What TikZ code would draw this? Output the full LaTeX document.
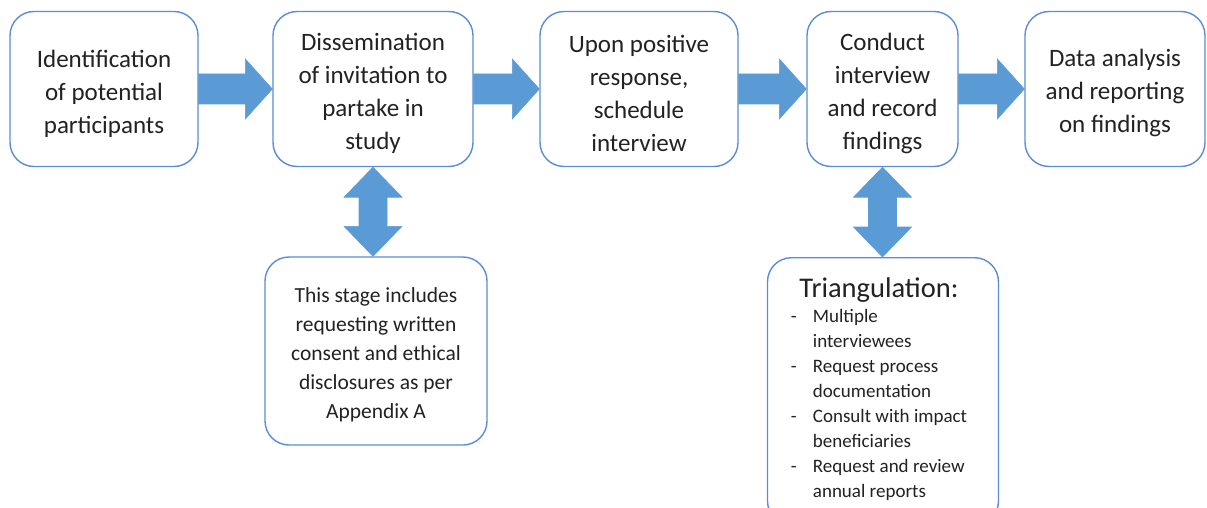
\documentclass[tikz,border=0pt]{standalone}
\usepackage{fontspec}
\setmainfont{Carlito}
\usetikzlibrary{calc}
\definecolor{Ink}{HTML}{222222}
\definecolor{Edge}{HTML}{5B8DD6}
\definecolor{Flow}{HTML}{5B9BD5}
% taller first line, pushes the text block down a little
\newcommand{\hd}{\rule{0pt}{1.05em}}
\tikzset{
  frm/.style={rectangle,rounded corners=24pt,draw=Edge,line width=1.4pt,fill=white,text=Ink,align=center,inner sep=4pt},
  stg/.style={frm,font=\fontsize{25}{33}\selectfont,minimum height=155pt},
  nb/.style={stg,font=\fontsize{21.5}{29}\selectfont},
  blk/.style={fill=Flow,draw=Flow,line width=0.6pt,line join=miter},
}
\begin{document}
\begin{tikzpicture}[x=1pt,y=-1pt]
\useasboundingbox (0,0) rectangle (1207,508);
\clip (0,0) rectangle (1207,508);
% -main stages-
\node[stg,minimum width=188pt] (s1) at (104,89) {\hd Identification\\of potential\\participants};
\node[stg,minimum width=200pt] (s2) at (373,89) {\hd Dissemination\\of invitation to\\partake in\\study};
\node[stg,minimum width=198pt] (s3) at (639,89) {\hd Upon positive\\response,\\schedule\\interview};
\node[stg,minimum width=151pt] (s4) at (882.5,89) {\hd Conduct\\interview\\and record\\findings};
\node[stg,minimum width=180pt] (s5) at (1115,89) {\hd Data analysis\\and reporting\\on findings};
% -side notes-
\node[nb,minimum width=222pt,minimum height=188pt] (cons) at (376,351) {\hd This stage includes\\requesting written\\consent and ethical\\disclosures as per\\Appendix A};
\node[frm,anchor=north,minimum width=231pt,inner ysep=20pt,font=\fontsize{19}{25}\selectfont] (tri) at (883,257) {\hspace*{-8pt}\begin{tabular}{@{}p{22pt}@{}l@{}}
\multicolumn{2}{c}{\fontsize{28.5}{34}\selectfont Triangulation:}\\
- & Multiple\\
  & interviewees\\
- & Request process\\
  & documentation\\
- & Consult with impact\\
  & beneficiaries\\
- & Request and review\\
  & annual reports
\end{tabular}};
% -block arrows-
\foreach \a/\b in {s1/s2,s2/s3,s3/s4,s4/s5}
  \path[blk] ($(\a.east)+(0,15)$) -- ($(\b.west)+(-27,15)$) -- ($(\b.west)+(-27,30)$) -- (\b.west) -- ($(\b.west)+(-27,-30)$) -- ($(\b.west)+(-27,-15)$) -- ($(\a.east)+(0,-15)$) -- cycle;
\foreach \a/\b in {s2/cons,s4/tri}{
  \coordinate (e) at (\a.south |- \b.north);
  \path[blk] (\a.south) -- ++(29,30) -- ++(-15,0) -- ($(e)+(14,-30)$) -- ++(15,0) -- (e) -- ++(-29,-30) -- ++(15,0) -- ($(\a.south)+(-14,30)$) -- ++(-15,0) -- cycle;
}
\end{tikzpicture}
\end{document}
